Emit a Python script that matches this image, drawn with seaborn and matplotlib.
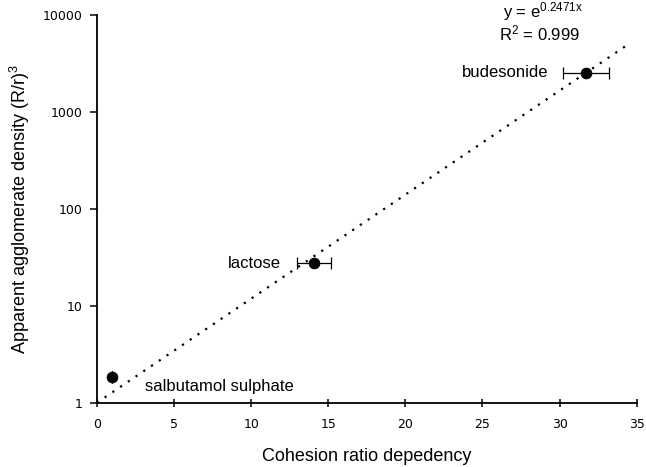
import numpy as np
import pandas as pd
import matplotlib
matplotlib.use("Agg")
import matplotlib.pyplot as plt
import seaborn as sns

# Data
materials = ["salbutamol sulphate", "lactose", "budesonide"]
cohesion = [0.99, 14.1, 31.7]
density = [1.85, 27.4, 2520]
xerr_low = [0.0, 1.1, 1.5]
xerr_high = [0.0, 1.05, 1.5]
fit_k = 0.2471
fit_r2 = 0.999
fit_xrange = [0.0, 34.5]
yticks = [1, 10, 100, 1000, 10000]
xticks = [0, 5, 10, 15, 20, 25, 30, 35]

sns.set_theme(style="white")
plt.rcParams['font.family'] = ['Liberation Sans', 'DejaVu Sans']
plt.rcParams['mathtext.fontset'] = 'custom'
plt.rcParams['mathtext.rm'] = 'Liberation Sans'
plt.rcParams['text.color'] = 'black'
plt.rcParams['axes.labelcolor'] = 'black'

fig = plt.figure(figsize=(6.46, 4.67), dpi=100)
ax = fig.add_axes([0.150, 0.1377, 0.8356, 0.8303])

df = pd.DataFrame({"material": materials, "x": cohesion, "y": density})

# trendline
xs = np.linspace(fit_xrange[0], fit_xrange[1], 200)
fit_df = pd.DataFrame({"x": xs, "y": np.exp(fit_k * xs)})
sns.lineplot(data=fit_df, x="x", y="y", ax=ax, color="black",
             linestyle=(0, (1, 3.2)), linewidth=1.6, legend=False)

# error bars
ax.errorbar(cohesion, density, xerr=[xerr_low, xerr_high], fmt="none",
            ecolor="black", elinewidth=0.9, capsize=4, capthick=0.9, zorder=3)

sns.scatterplot(data=df, x="x", y="y", ax=ax, color="black", s=60,
                edgecolor="black", zorder=4, legend=False)

ax.set_yscale("log")
ax.set_xlim(0, 35)
ax.set_ylim(1, 10000)
ax.set_xticks(xticks)
ax.set_xticklabels([str(t) for t in xticks], family="DejaVu Sans")
ax.set_yticks(yticks)
ax.set_yticklabels([str(t) for t in yticks], family="DejaVu Sans")
ax.yaxis.set_minor_locator(matplotlib.ticker.NullLocator())

for s in ["top", "right"]:
    ax.spines[s].set_visible(False)
for s in ["left", "bottom"]:
    ax.spines[s].set_color("black")
    ax.spines[s].set_linewidth(1.3)

ax.tick_params(axis="x", direction="inout", length=6, width=1.1, labelsize=9,
               pad=8, colors="black", bottom=True)
ax.tick_params(axis="y", direction="out", length=5, width=1.1, labelsize=9,
               pad=5, colors="black", left=True)

ax.set_xlabel("Cohesion ratio depedency", fontsize=13, labelpad=12)
ax.set_ylabel(r"Apparent agglomerate density (R/r)$^{3}$", fontsize=13,
              labelpad=8)

# labels
ax.text(cohesion[0] + 2.1, density[0] * 0.8, materials[0], fontsize=12,
        ha="left", va="center")
ax.text(cohesion[1] - 2.2, density[1], materials[1], fontsize=12,
        ha="right", va="center")
ax.text(cohesion[2] - 2.4, density[2], materials[2], fontsize=12,
        ha="right", va="center")

ax.text(26.3, 9400, r"y = e$\mathregular{^{%.4fx}}$" % fit_k, fontsize=12,
        ha="left", va="baseline")
ax.text(26.1, 5450, r"R$\mathregular{^{2}}$ = %.3f" % fit_r2, fontsize=12,
        ha="left", va="baseline")

fig.savefig("out.png", dpi=100)
